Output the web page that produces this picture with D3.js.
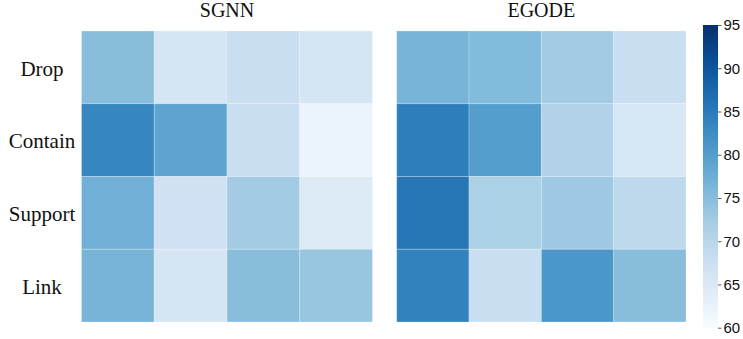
<!DOCTYPE html>
<html>
<head>
<meta charset="utf-8">
<script src="https://cdn.jsdelivr.net/npm/d3@7"></script>
<style>
  html, body { margin: 0; padding: 0; background: #fff; }
  svg { display: block; }
</style>
</head>
<body>
<svg id="chart" width="743" height="339"></svg>
<script>
// Row categories (tasks) and column indices
const tasks = ["Drop", "Contain", "Support", "Link"];
const columns = [0, 1, 2, 3];
const models = ["SGNN", "EGODE"];

// Accuracy-like scores per task (rows) for each model
const sgnnValues = [
  [75.0, 66.0, 68.0, 66.0],
  [83.5, 79.0, 68.0, 62.0],
  [77.0, 67.0, 72.5, 64.5],
  [76.5, 66.0, 75.0, 73.5]
];
const egodeValues = [
  [76.5, 75.5, 72.5, 68.0],
  [84.5, 80.0, 71.0, 65.5],
  [85.5, 71.5, 73.0, 69.5],
  [84.0, 68.0, 81.0, 75.0]
];

// Colour bar range and ticks
const colorDomain = [60, 95];
const colorTicks = [60, 65, 70, 75, 80, 85, 90, 95];

const svg = d3.select("#chart");
const color = d3.scaleSequential(d3.interpolateBlues).domain(colorDomain);

const panelTop = 31, panelBottom = 322;
const panels = [
  { name: models[0], values: sgnnValues, x0: 81.5, x1: 372.5 },
  { name: models[1], values: egodeValues, x0: 396.7, x1: 686 }
];

const y = d3.scaleBand().domain(tasks).range([panelTop, panelBottom]).padding(0);

panels.forEach((p, pi) => {
  const x = d3.scaleBand().domain(columns).range([p.x0, p.x1]).padding(0);
  const g = svg.append("g");
  const cells = [];
  p.values.forEach((row, ri) => row.forEach((v, ci) => cells.push({ task: tasks[ri], col: columns[ci], v })));
  g.selectAll("rect")
    .data(cells)
    .join("rect")
    .attr("x", d => x(d.col))
    .attr("y", d => y(d.task))
    .attr("width", x.bandwidth())
    .attr("height", y.bandwidth())
    .attr("fill", d => color(d.v))
    .attr("stroke", "rgba(255,255,255,0.3)")
    .attr("stroke-width", 0.8);

  svg.append("text")
    .attr("x", (p.x0 + p.x1) / 2)
    .attr("y", 17)
    .attr("text-anchor", "middle")
    .attr("font-family", "'Liberation Serif', 'Times New Roman', serif")
    .attr("font-size", 20)
    .attr("fill", "#111")
    .text(p.name);

  if (pi === 0) {
    svg.append("g").selectAll("text")
      .data(tasks)
      .join("text")
      .attr("x", 42)
      .attr("y", d => y(d) + y.bandwidth() / 2 + 1)
      .attr("dy", "0.35em")
      .attr("text-anchor", "middle")
      .attr("font-family", "'Liberation Serif', 'Times New Roman', serif")
      .attr("font-size", 21)
      .attr("fill", "#111")
      .text(d => d);
  }
});

// Colour bar
const cbX = 703, cbW = 15, cbTop = 25, cbBottom = 327.7;
const cbScale = d3.scaleLinear().domain(colorDomain).range([cbBottom, cbTop]);
const defs = svg.append("defs");
const grad = defs.append("linearGradient")
  .attr("id", "cbGrad")
  .attr("x1", 0).attr("y1", 1).attr("x2", 0).attr("y2", 0);
d3.range(0, 1.0001, 0.05).forEach(t => {
  grad.append("stop")
    .attr("offset", t)
    .attr("stop-color", color(colorDomain[0] + t * (colorDomain[1] - colorDomain[0])));
});
svg.append("rect")
  .attr("x", cbX)
  .attr("y", cbTop)
  .attr("width", cbW)
  .attr("height", cbBottom - cbTop)
  .attr("fill", "url(#cbGrad)");

const cbAxis = d3.axisRight(cbScale).tickValues(colorTicks).tickSize(3.5).tickPadding(2);
const axG = svg.append("g")
  .attr("transform", `translate(${cbX + cbW},0)`)
  .call(cbAxis);
axG.select(".domain").remove();
axG.selectAll(".tick line").attr("stroke", "#333").attr("stroke-width", 0.8);
axG.selectAll(".tick text")
  .attr("font-family", "'Liberation Sans', Arial, sans-serif")
  .attr("font-size", 15)
  .attr("fill", "#111");
</script>
</body>
</html>
